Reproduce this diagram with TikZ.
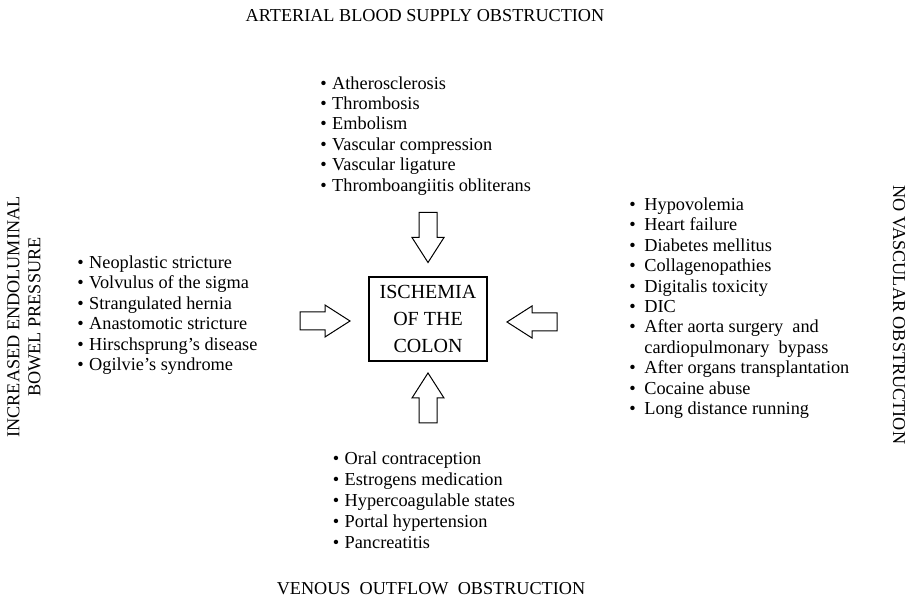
\documentclass[tikz,border=0pt]{standalone}
\usepackage{fontspec}
\setmainfont{Liberation Serif}
\usetikzlibrary{positioning}
\newcommand{\itm}[1][5.9pt]{\makebox[#1][l]{\textbullet}}

\begin{document}
\begin{tikzpicture}[x=0.5pt,y=-0.5pt,
    cause/.style={align=left,inner sep=0pt,anchor=north west,
                  font=\fontsize{9.15}{10.2}\selectfont},
    heading/.style={inner sep=0pt,align=center,font=\fontsize{9.1}{10.5}\selectfont},
    centre/.style={draw,line width=0.9pt,align=center,inner sep=0pt,
                   minimum width=59pt,minimum height=42pt,
                   font=\fontsize{10}{13.6}\selectfont},
    fat/.pic={\draw[line width=0.5pt,line join=miter]
      (-25,-9) -- (0,-9) -- (0,-16) -- (25,0) -- (0,16) -- (0,9) -- (-25,9) -- cycle;}
  ]
  \useasboundingbox (0,0) rectangle (911,598);

  % headings round the page
  \node[heading] (art) at (425,16) {ARTERIAL BLOOD SUPPLY OBSTRUCTION};
  \node[heading] (ven) at (431,589) {VENOUS\ \ OUTFLOW\ \ OBSTRUCTION};
  \node[heading,rotate=90] (pres) at (24,317) {INCREASED ENDOLUMINAL\\BOWEL PRESSURE};
  \node[heading,rotate=-90] (novasc) at (899,315) {NO VASCULAR OBSTRUCTION};

  % the centre
  \node[centre] (isch) at (428,319) {ISCHEMIA\\OF THE\\COLON};

  % causes
  \node[cause] (arterial) at (320,76) {\itm Atherosclerosis\\\itm Thrombosis\\
    \itm Embolism\\\itm Vascular compression\\\itm Vascular ligature\\
    \itm Thromboangiitis obliterans};
  \node[cause] (luminal) at (77,255.5) {\itm Neoplastic stricture\\
    \itm Volvulus of the sigma\\\itm Strangulated hernia\\
    \itm Anastomotic stricture\\\itm Hirschsprung’s disease\\
    \itm Ogilvie’s syndrome};
  \node[cause] (nonvasc) at (629,197.5) {\itm[7.5pt]Hypovolemia\\\itm[7.5pt]Heart failure\\
    \itm[7.5pt]Diabetes mellitus\\\itm[7.5pt]Collagenopathies\\\itm[7.5pt]Digitalis toxicity\\
    \itm[7.5pt]DIC\\\itm[7.5pt]After aorta surgery\ \ and\\\hspace*{7.5pt}cardiopulmonary\ \ bypass\\
    \itm[7.5pt]After organs transplantation\\\itm[7.5pt]Cocaine abuse\\
    \itm[7.5pt]Long distance running};
  \node[cause,font=\fontsize{9.15}{10.5}\selectfont] (venous) at (332.5,451.5) {\itm Oral contraception\\
    \itm Estrogens medication\\\itm Hypercoagulable states\\
    \itm Portal hypertension\\\itm Pancreatitis};

  % block arrows
  \pic[rotate=-90] (adown) at (428,237.5) {fat};
  \pic[rotate=90] (aup) at (428,398) {fat};
  \pic (aright) at (325,321) {fat};
  \pic[rotate=180] (aleft) at (532,322) {fat};
\end{tikzpicture}
\end{document}
